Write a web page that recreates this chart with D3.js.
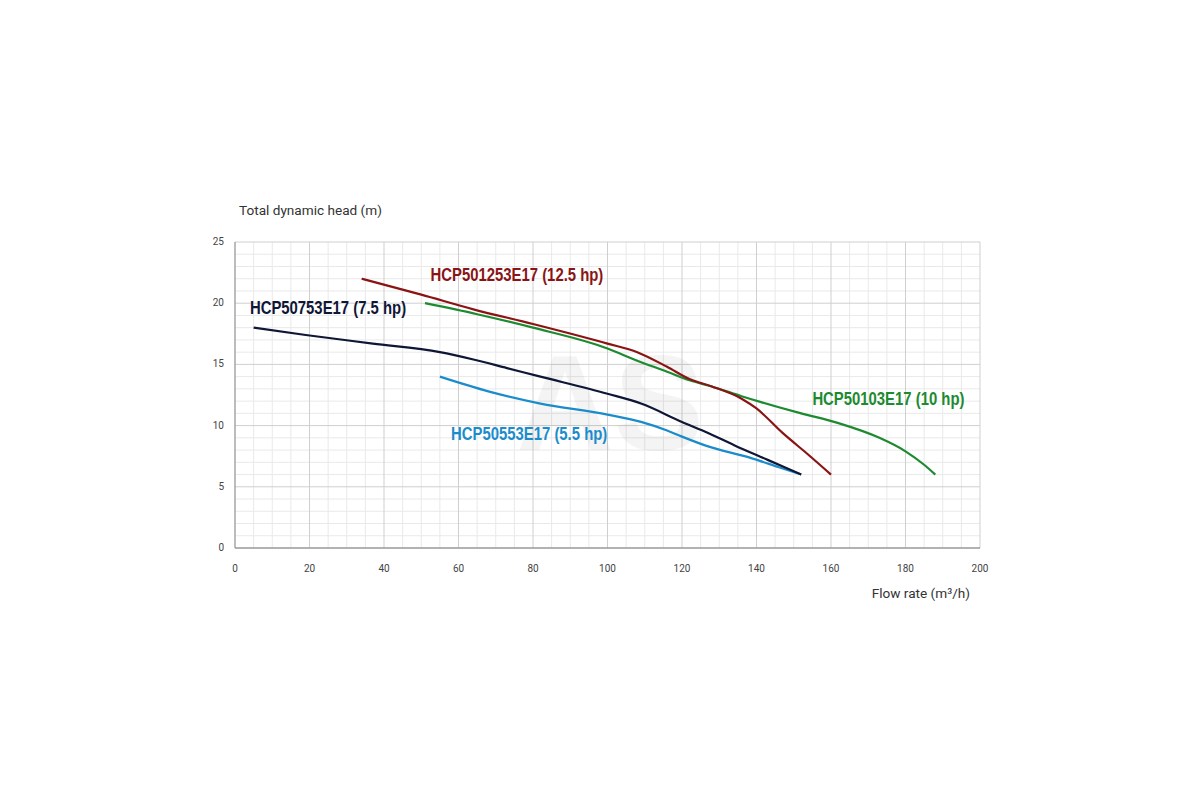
<!DOCTYPE html>
<html>
<head>
<meta charset="utf-8">
<script src="https://cdn.jsdelivr.net/npm/d3@7"></script>
<style>
    body { margin: 0; background: #fff; }
    svg { display: block; }
    .tick-label { font-family: Roboto, 'Liberation Sans', sans-serif; font-size: 10px; fill: #444; }
    .axis-title { font-family: Roboto, 'Liberation Sans', sans-serif; font-size: 13.6px; fill: #333; }
    .curve-label { font-family: 'Liberation Sans', Arial, sans-serif; font-weight: bold; font-size: 17.5px; }
</style>
</head>
<body>
<svg id="chart" width="1200" height="800"></svg>
<script>
// x ticks (flow rate m3/h) and y ticks (head m)
const xTicks = [0, 20, 40, 60, 80, 100, 120, 140, 160, 180, 200];
const yTicks = [0, 5, 10, 15, 20, 25];

// pump curves: [flow, head]
const curve12_5hp = [[34, 22], [50, 20.7], [64, 19.5], [80, 18.3], [100, 16.7], [108, 16.0], [116, 14.8],
    [122, 13.8], [128, 13.2], [136, 12.2], [140, 11.4], [147, 9.4], [154, 7.6], [160, 6]];
const curve10hp = [[51, 20], [65, 19.1], [80, 18.0], [100, 16.3], [108, 15.3], [116, 14.4], [122, 13.7],
    [128, 13.2], [136, 12.4], [146, 11.5], [152, 11.0], [162, 10.2], [173, 9.0], [180, 7.9], [185, 6.8], [188, 6]];
const curve7_5hp = [[5, 18], [19, 17.4], [37, 16.7], [55, 16.0], [64, 15.4], [73, 14.7], [82, 14.0], [100, 12.6],
    [109, 11.8], [120, 10.3], [127, 9.4], [134, 8.4], [143, 7.2], [152, 6]];
const curve5_5hp = [[55, 14], [68, 12.8], [82, 11.8], [100, 10.9], [109, 10.3], [116, 9.6], [120, 9.1],
    [127, 8.3], [138, 7.4], [146, 6.6], [152, 6]];

const seriesNames = ['HCP501253E17 (12.5 hp)', 'HCP50103E17 (10 hp)', 'HCP50753E17 (7.5 hp)', 'HCP50553E17 (5.5 hp)'];
const seriesColors = ['#8a1414', '#1d8a30', '#0f1636', '#1b8ccb'];
// label anchor in data units
const labelPos = [[52.5, 21.8], [155, 11.7], [4, 19.1], [58, 8.8]];

const svg = d3.select('#chart');
const margin = { left: 235, top: 242, right: 220, bottom: 252 };
const width = 1200 - margin.left - margin.right;
const height = 800 - margin.top - margin.bottom;

const x = d3.scaleLinear().domain([0, 200]).range([0, width]);
const y = d3.scaleLinear().domain([0, 25]).range([height, 0]);

const g = svg.append('g').attr('transform', `translate(${ margin.left }, ${ margin.top })`);

// minor grid
g.append('g')
    .selectAll('line')
    .data(d3.range(0, 201, 5).filter((d) => d % 20 !== 0))
    .enter()
    .append('line')
    .attr('x1', (d) => x(d)).attr('x2', (d) => x(d))
    .attr('y1', 0).attr('y2', height)
    .style('stroke', '#e9e9e9');
g.append('g')
    .selectAll('line')
    .data(d3.range(0, 26, 1).filter((d) => d % 5 !== 0))
    .enter()
    .append('line')
    .attr('y1', (d) => y(d)).attr('y2', (d) => y(d))
    .attr('x1', 0).attr('x2', width)
    .style('stroke', '#e9e9e9');

// major grid
g.append('g')
    .selectAll('line')
    .data(xTicks.slice(1))
    .enter()
    .append('line')
    .attr('x1', (d) => x(d)).attr('x2', (d) => x(d))
    .attr('y1', 0).attr('y2', height)
    .style('stroke', '#cfcfcf');
g.append('g')
    .selectAll('line')
    .data(yTicks.slice(1))
    .enter()
    .append('line')
    .attr('y1', (d) => y(d)).attr('y2', (d) => y(d))
    .attr('x1', 0).attr('x2', width)
    .style('stroke', '#cfcfcf');

// watermark
g.append('text')
    .text('AS')
    .attr('x', 375)
    .attr('y', 208)
    .style('font-family', 'Liberation Sans, sans-serif')
    .style('font-weight', 'bold')
    .style('font-size', '135px')
    .style('text-anchor', 'middle')
    .style('fill', '#000')
    .style('opacity', 0.04);

// axis lines
g.append('line').attr('x1', 0).attr('x2', 0).attr('y1', 0).attr('y2', height).style('stroke', '#999').style('stroke-width', 1.3);
g.append('line').attr('x1', 0).attr('x2', width).attr('y1', height).attr('y2', height).style('stroke', '#999').style('stroke-width', 1.3);

// tick labels
g.selectAll('.xLabel')
    .data(xTicks)
    .enter()
    .append('text')
    .attr('class', 'tick-label')
    .text((d) => d)
    .attr('x', (d) => x(d))
    .attr('y', height + 24)
    .style('text-anchor', 'middle');
g.selectAll('.yLabel')
    .data(yTicks)
    .enter()
    .append('text')
    .attr('class', 'tick-label')
    .text((d) => d)
    .attr('x', -11)
    .attr('y', (d) => y(d) + 3)
    .style('text-anchor', 'end');

// axis titles
g.append('text').attr('class', 'axis-title').text('Total dynamic head (m)').attr('x', 4).attr('y', -27);
g.append('text').attr('class', 'axis-title').text('Flow rate (m³/h)').attr('x', width - 10).attr('y', height + 50).style('text-anchor', 'end');

// curves
const line = d3.line()
    .x((d) => x(d[0]))
    .y((d) => y(d[1]))
    .curve(d3.curveMonotoneX);

const curves = [curve12_5hp, curve10hp, curve7_5hp, curve5_5hp];
// draw order: green under red, blue under black
[1, 0, 3, 2].forEach((i) => {
    g.append('path')
        .datum(curves[i])
        .attr('d', line)
        .style('fill', 'none')
        .style('stroke', seriesColors[i])
        .style('stroke-width', 2.2);
});

// labels are slightly condensed in the original
seriesNames.forEach((name, i) => {
    g.append('text')
        .attr('class', 'curve-label')
        .text(name)
        .attr('transform', `translate(${ x(labelPos[i][0]) }, ${ y(labelPos[i][1]) }) scale(0.85, 1)`)
        .style('fill', seriesColors[i]);
});
</script>
</body>
</html>
